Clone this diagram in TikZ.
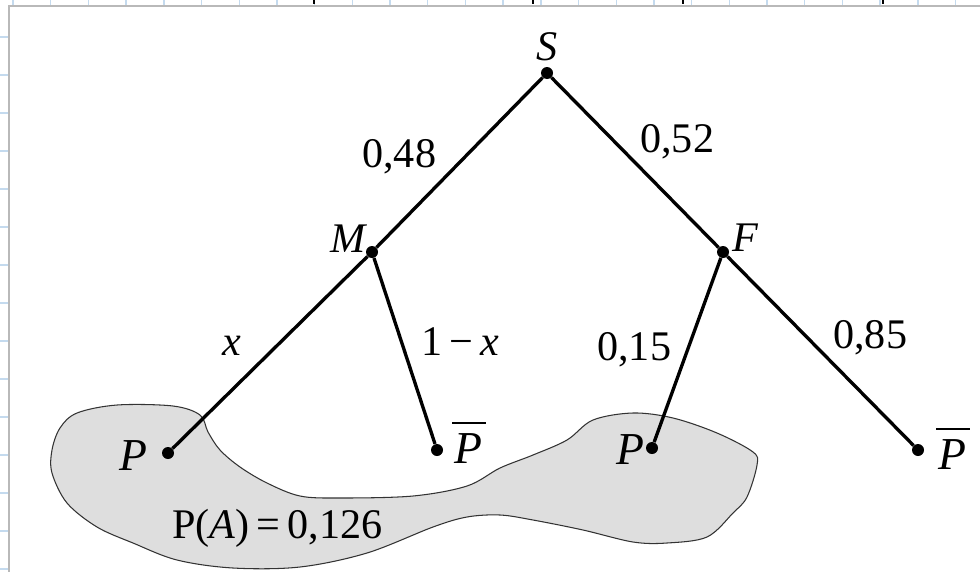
\documentclass[tikz,border=0pt]{standalone}
\usepackage{fontspec}
\setmainfont{Liberation Serif}
\usetikzlibrary{positioning}
\definecolor{gridblue}{RGB}{196,218,238}
\definecolor{framegray}{RGB}{185,185,185}
\definecolor{blobgray}{RGB}{222,222,222}
\newcommand{\pbar}{\leavevmode\vbox{\hrule height 1.5pt\kern 5pt\hbox{\kern1pt\itshape P\kern2pt}}}

\begin{document}
\begin{tikzpicture}[
  x=0.02cm, y=-0.02cm,
  dot/.style={circle, fill=black, inner sep=0pt, minimum size=0.24cm},
  branch/.style={line width=1.9pt},
  vname/.style={inner sep=0pt, anchor=base, font=\fontsize{24}{28}\selectfont\itshape},
  prob/.style={inner sep=0pt, anchor=base west, font=\fontsize{24}{28}\selectfont},
  leaf/.style={inner sep=0pt, anchor=base, font=\fontsize{26}{30}\selectfont\itshape}
]
\useasboundingbox (0,0) rectangle (980,572);
\fill[white] (0,0) rectangle (980,572);
% notebook grid round the page
\foreach \gx in {0,...,25} \draw[gridblue, line width=0.8pt] ({13+37.7*\gx},0) -- ({13+37.7*\gx},6);
\foreach \gy in {0,...,14} \draw[gridblue, line width=0.8pt] (0,{37+38*\gy}) -- (9,{37+38*\gy});
\foreach \tx in {314,533,683,883} \draw[line width=1.2pt] (\tx,0) -- (\tx,4);
\draw[framegray, line width=0.8pt] (980,6) -- (9,6) -- (9,572);

% event A
\filldraw[fill=blobgray, draw=black!80, line width=0.6pt] plot[smooth cycle, tension=0.55] coordinates {
  (52,450) (60,428) (77,413) (117,405) (173,406) (200,415) (208,432) (220,450)
  (240,467) (267,483) (300,496) (340,498) (413,496) (467,486) (500,468)
  (533,455) (567,440) (593,420) (633,413) (673,418) (717,433) (753,452)
  (757,465) (747,497) (733,513) (707,537) (667,543) (633,542) (583,530)
  (533,520) (500,515) (467,517) (433,527) (367,553) (300,567) (233,568)
  (177,560) (133,543) (97,527) (67,503) (52,473)};

% tree
\node[dot] (S) at (547,73) {};
\node[dot] (M) at (372,252) {};
\node[dot] (F) at (723,252) {};
\node[dot] (MP) at (168,453) {};
\node[dot] (MPb) at (437,450) {};
\node[dot] (FP) at (652,448) {};
\node[dot] (FPb) at (918,450) {};

\node[vname] (Slab) at (547,60) {S};
\node[vname] (Mlab) at (348,252) {M};
\node[vname] (Flab) at (745,251) {F};
\node[leaf] (MPlab) at (133,470) {P};
\node[leaf] (MPblab) at (469,463) {\pbar};
\node[leaf] (FPlab) at (630,464) {P};
\node[leaf] (FPblab) at (953,469) {\pbar};

\draw[branch] (S) -- (M);
\draw[branch] (S) -- (F);
\draw[branch] (M) -- (MP);
\draw[branch] (M) -- (MPb);
\draw[branch] (F) -- (FP);
\draw[branch] (F) -- (FPb);

\node[prob] (pSM) at (362,167) {0,48};
\node[prob] (pSF) at (640,152) {0,52};
\node[prob] (pMP) at (222,355) {\textit{x}};
\node[prob] (pMPb) at (421,355) {1\,−\,\textit{x}};
\node[prob] (pFP) at (597,360) {0,15};
\node[prob] (pFPb) at (833,348) {0,85};
\node[prob] (pA) at (172,538) {P(\textit{A})\,=\,0,126};
\end{tikzpicture}
\end{document}
